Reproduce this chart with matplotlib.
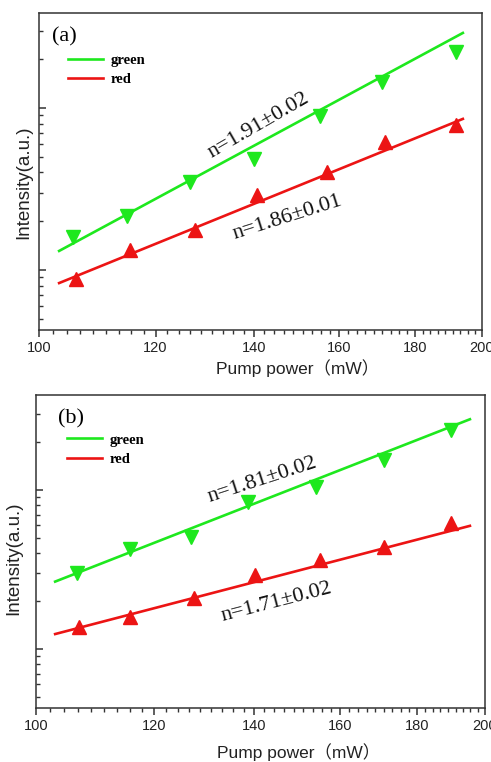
import numpy as np
import matplotlib
matplotlib.use("Agg")
import matplotlib.pyplot as plt
from matplotlib.ticker import FixedLocator, NullFormatter, FixedFormatter

# ---------------- data ----------------
power_a_green = [105.5, 114.8, 126.6, 140.0, 155.2, 171.1, 192.0]
int_a_green = [1.60, 2.15, 3.49, 4.84, 8.93, 14.5, 22.2]
power_a_red = [106.0, 115.3, 127.6, 140.7, 156.9, 171.8, 192.0]
int_a_red = [0.88, 1.33, 1.77, 2.90, 4.03, 6.17, 7.85]

power_b_green = [106.5, 115.6, 127.0, 138.7, 154.1, 171.1, 189.9]
int_b_green = [3.02, 4.25, 5.08, 8.44, 10.5, 15.4, 23.8]
power_b_red = [106.8, 115.7, 127.7, 140.2, 155.0, 171.1, 189.8]
int_b_red = [1.37, 1.58, 2.08, 2.92, 3.63, 4.38, 6.20]

fit_x_a = [103.2, 194.1]
fit_green_a = [1.31, 29.0]
fit_red_a = [0.83, 8.55]
fit_x_b = [103.0, 195.4]
fit_green_b = [2.65, 27.8]
fit_red_b = [1.24, 5.94]

labels_a = ["n=1.91\u00b10.02", "n=1.86\u00b10.01"]
labels_b = ["n=1.81\u00b10.02", "n=1.71\u00b10.02"]
x_major = [100, 120, 140, 160, 180, 200]
x_ticklabels = ["100", "120", "140", "160", "180", "200"]
legend_labels = ["green", "red"]

GREEN = "#1ee81e"
RED = "#ec1414"
SPINE = "#333333"

fig = plt.figure(figsize=(4.91, 7.62), dpi=100)
W, H = 491, 762


def add_axes_px(l, t, r, b):
    return fig.add_axes([l / W, 1 - b / H, (r - l) / W, (b - t) / H])


def style(ax, ylim):
    ax.set_xscale("log")
    ax.set_yscale("log")
    ax.set_xlim(100, 200)
    ax.set_ylim(*ylim)
    ax.xaxis.set_major_locator(FixedLocator(x_major))
    ax.xaxis.set_major_formatter(FixedFormatter(x_ticklabels))
    minors = []
    for m in x_major[:-1]:
        minors += [m + k * 20 / 9 for k in range(1, 9)]
    ax.xaxis.set_minor_locator(FixedLocator(minors))
    ax.xaxis.set_minor_formatter(NullFormatter())
    ax.yaxis.set_major_locator(FixedLocator([1, 10]))
    ax.yaxis.set_major_formatter(NullFormatter())
    ymin = [0.5, 0.6, 0.7, 0.8, 0.9, 2, 3, 4, 5, 6, 7, 8, 9, 20, 30]
    ax.yaxis.set_minor_locator(FixedLocator(ymin))
    ax.yaxis.set_minor_formatter(NullFormatter())
    ax.tick_params(axis="x", which="major", direction="out", length=5, width=1.1,
                   color=SPINE, labelsize=10.5, pad=3, labelcolor="#222222")
    ax.tick_params(axis="x", which="minor", direction="out", length=2.6, width=1.0, color=SPINE)
    ax.tick_params(axis="y", which="major", direction="in", length=5, width=1.1, color=SPINE)
    ax.tick_params(axis="y", which="minor", direction="in", length=2.6, width=1.0, color=SPINE)
    for lab in ax.get_xticklabels():
        lab.set_family("Liberation Sans")
    for s in ax.spines.values():
        s.set_color(SPINE)
        s.set_linewidth(1.1)


def panel(ax, pg, ig, pr, ir, fx, fg, fr, labels, lab_pos, lab_rot, tag, tagx, legxy):
    ax.plot(fx, fg, color=GREEN, lw=1.9, label=legend_labels[0], zorder=2)
    ax.plot(fx, fr, color=RED, lw=1.9, label=legend_labels[1], zorder=2)
    ax.plot(pg, ig, linestyle="none", marker="v", ms=10, color=GREEN, zorder=3)
    ax.plot(pr, ir, linestyle="none", marker="^", ms=10, color=RED, zorder=3)
    for t, (x, y), r in zip(labels, lab_pos, lab_rot):
        ax.text(x, y, t, rotation=r, rotation_mode="anchor", ha="center", va="center",
                family="Liberation Serif", fontsize=16, color="#111111")
    ax.text(tagx, 0.955, tag, transform=ax.transAxes, family="Liberation Serif",
            fontsize=16, va="top", ha="left")
    ax.legend(loc="upper left", bbox_to_anchor=legxy, frameon=False,
              prop={"family": "Liberation Serif", "weight": "bold", "size": 10.5},
              handlelength=2.4, handletextpad=0.5, labelspacing=0.42, borderaxespad=0)


# panel (a)
ax1 = add_axes_px(39, 13, 482, 330)
style(ax1, (0.426, 38.5))
panel(ax1, power_a_green, int_a_green, power_a_red, int_a_red, fit_x_a, fit_green_a, fit_red_a,
      labels_a, [(140.9, 7.74), (147.4, 2.09)], [30, 17.5], "(a)", 0.03, (0.053, 0.89))

# panel (b)
ax2 = add_axes_px(36, 395, 485, 708)
style(ax2, (0.425, 39.5))
panel(ax2, power_b_green, int_b_green, power_b_red, int_b_red, fit_x_b, fit_green_b, fit_red_b,
      labels_b, [(141.7, 11.56), (145.0, 1.95)], [18, 14.5], "(b)", 0.048, (0.057, 0.896))

fam = ["Liberation Sans", "Noto Sans CJK SC"]
fig.text(298 / W, 1 - 368 / H, "Pump power\uff08mW\uff09", ha="center", va="center",
         family=fam, fontsize=12.5, color="#222222")
fig.text(299 / W, 1 - 752 / H, "Pump power\uff08mW\uff09", ha="center", va="center",
         family=fam, fontsize=12.5, color="#222222")
fig.text(24 / W, 1 - 182 / H, "Intensity(a.u.)", ha="center", va="center", rotation=90,
         family=fam, fontsize=13.5, color="#222222")
fig.text(14 / W, 1 - 558 / H, "Intensity(a.u.)", ha="center", va="center", rotation=90,
         family=fam, fontsize=13.5, color="#222222")

fig.savefig("out.png", dpi=100)
